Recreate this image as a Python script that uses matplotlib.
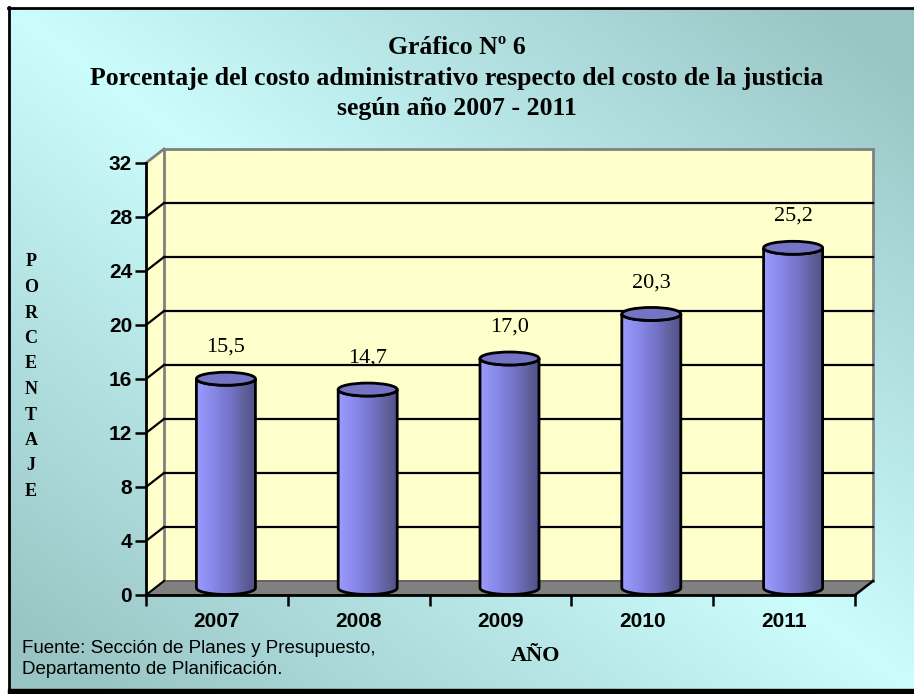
import matplotlib.pyplot as plt
import numpy as np
from matplotlib.patches import Polygon, Ellipse, Rectangle, PathPatch
from matplotlib.path import Path
from matplotlib.lines import Line2D
from matplotlib.colors import LinearSegmentedColormap

# ---- data ----
years = ["2007", "2008", "2009", "2010", "2011"]
values = [15.5, 14.7, 17.0, 20.3, 25.2]
value_labels = ["15,5", "14,7", "17,0", "20,3", "25,2"]
y_ticks = [0, 4, 8, 12, 16, 20, 24, 28, 32]
title_lines = ["Gráfico Nº 6",
               "Porcentaje del costo administrativo respecto del costo de la justicia",
               "según año 2007 - 2011"]
ylabel = "PORCENTAJE"
xlabel = "AÑO"
source = "Fuente: Sección de Planes y Presupuesto,\nDepartamento de Planificación."

W, H = 914, 694
SERIF = "Liberation Serif"
SANS = "Liberation Sans"

fig = plt.figure(figsize=(W / 100, H / 100), dpi=100, facecolor="white")

# ---- background gradient + frame ----
bg = fig.add_axes([10 / W, 5 / H, 1 - 10 / W, (689 - 8) / H], zorder=0)
u = np.linspace(0, 1, 300)
v = np.linspace(0, 1, 300)
U, V = np.meshgrid(u, v)
t = np.clip(np.abs(U - V) * 1.1, 0, 1)
light = np.array([0.80, 0.99, 0.99])
dark = np.array([0.60, 0.77, 0.77])
img = light[None, None, :] * (1 - t[..., None]) + dark[None, None, :] * t[..., None]
bg.imshow(img, extent=[0, 1, 0, 1], aspect="auto", origin="upper")
bg.set_axis_off()

fig.add_artist(Line2D([9 / W, 9 / W], [0, 1 - 7 / H], color="black", lw=2))
fig.add_artist(Line2D([8 / W, 1], [1 - 8 / H, 1 - 8 / H], color="black", lw=2))
fig.add_artist(Rectangle((8 / W, 0), 1, 5 / H, color="black", transform=fig.transFigure))

# ---- main axes (front plane) ----
ax = fig.add_axes([146 / W, 99 / H, 709 / W, 432 / H], zorder=2)
ax.set_facecolor("none")
n = len(years)
ymax = y_ticks[-1]
DX = 18 / (709 / n)      # depth offset in category units
DY = 14 / (432 / ymax)   # depth offset in value units

wall = "#FFFFCC"
edge_gray = "#808080"

# side wall
ax.add_patch(Polygon([(0, 0), (DX, DY), (DX, ymax + DY), (0, ymax)], closed=True,
                     facecolor=wall, edgecolor="none", zorder=1, clip_on=False))
# back wall
ax.add_patch(Rectangle((DX, DY), n, ymax, facecolor=wall, edgecolor=edge_gray,
                       lw=2, zorder=1, clip_on=False))
ax.plot([0, DX], [ymax, ymax + DY], color=edge_gray, lw=2, zorder=1, clip_on=False)
# gridlines
for yt in y_ticks[1:-1]:
    ax.plot([DX, n + DX], [yt + DY, yt + DY], color="black", lw=1.6, zorder=2, clip_on=False)
    ax.plot([0, DX], [yt, yt + DY], color="black", lw=1.6, zorder=2, clip_on=False)
# floor
ax.add_patch(Polygon([(0, 0), (n, 0), (n + DX, DY), (DX, DY)], closed=True,
                     facecolor="#808080", edgecolor="#555555", lw=1, zorder=2, clip_on=False))
ax.plot([0, DX], [0, DY], color="black", lw=1.5, zorder=2, clip_on=False)
ax.plot([n, n + DX], [0, DY], color="black", lw=1.8, zorder=2, clip_on=False)

# ---- cylinders ----
cyl_cmap = LinearSegmentedColormap.from_list(
    "cyl", ["#9C9CFF", "#8E8EF0", "#8080DC", "#7272C6", "#62629E", "#50508A"])
grad = np.linspace(0, 1, 256)[None, :]
hw = 29.5 / (709 / n)
eh = 6.5 / (432 / ymax)
theta = np.linspace(np.pi, 2 * np.pi, 40)

for i, val in enumerate(values):
    cx = i + 0.5 + DX / 2
    base = DY / 2
    top = val + DY / 2
    xs = cx + hw * np.cos(theta)
    ys_top = top + eh * np.sin(theta)
    ys_bot = base + eh * np.sin(theta)
    verts = ([(cx - hw, base), (cx - hw, top)] + list(zip(xs, ys_top)) +
             [(cx + hw, base)] + list(zip(xs[::-1], ys_bot[::-1])) + [(cx - hw, base)])
    body = PathPatch(Path(verts), facecolor="none", edgecolor="black", lw=2, zorder=4)
    ax.add_patch(body)
    im = ax.imshow(grad, cmap=cyl_cmap, extent=[cx - hw, cx + hw, base - eh, top + eh],
                   aspect="auto", zorder=3, interpolation="bilinear")
    im.set_clip_path(body)
    ax.add_patch(Ellipse((cx, top), 2 * hw, 2 * eh, facecolor="#7474C4",
                         edgecolor="black", lw=2, zorder=5))
    ax.annotate(value_labels[i], (cx, top + eh), xytext=(0, 11), textcoords="offset points",
                ha="center", va="bottom", fontsize=16, family=SERIF, zorder=6)

# ---- axes styling ----
ax.set_xlim(0, n)
ax.set_ylim(0, ymax)
for s in ["top", "right"]:
    ax.spines[s].set_visible(False)
for s in ["left", "bottom"]:
    ax.spines[s].set_linewidth(2)
    ax.spines[s].set_zorder(6)
ax.set_yticks(y_ticks)
ax.set_yticklabels([str(y) for y in y_ticks], fontsize=15, fontweight="bold", family=SANS)
ax.tick_params(axis="y", direction="out", length=8, width=1.8, pad=2)
ax.set_xticks(range(n + 1))
ax.set_xticklabels([])
ax.set_xticks([i + 0.5 for i in range(n)], minor=True)
ax.set_xticklabels(years, minor=True, fontsize=15, fontweight="bold", family=SANS)
ax.tick_params(axis="x", which="major", direction="out", length=8, width=1.8)
ax.tick_params(axis="x", which="minor", length=0, pad=12)

# ---- texts ----
for k, line in enumerate(title_lines):
    fig.text(457 / W, 1 - (47 + 31 * k) / H, line, ha="center", va="center",
             fontsize=18.5, fontweight="bold", family=SERIF)
for k, ch in enumerate(ylabel):
    fig.text(31 / W, 1 - (262 + 25.5 * k) / H, ch, ha="center", va="center",
             fontsize=13, fontweight="bold", family=SERIF)
fig.text(536 / W, 1 - 656 / H, xlabel, ha="center", va="center",
         fontsize=16, fontweight="bold", family=SERIF)
fig.text(22 / W, 1 - 659 / H, source, ha="left", va="center", fontsize=13.5,
         family=SANS, linespacing=1.35)

fig.savefig("out.png", dpi=100)
